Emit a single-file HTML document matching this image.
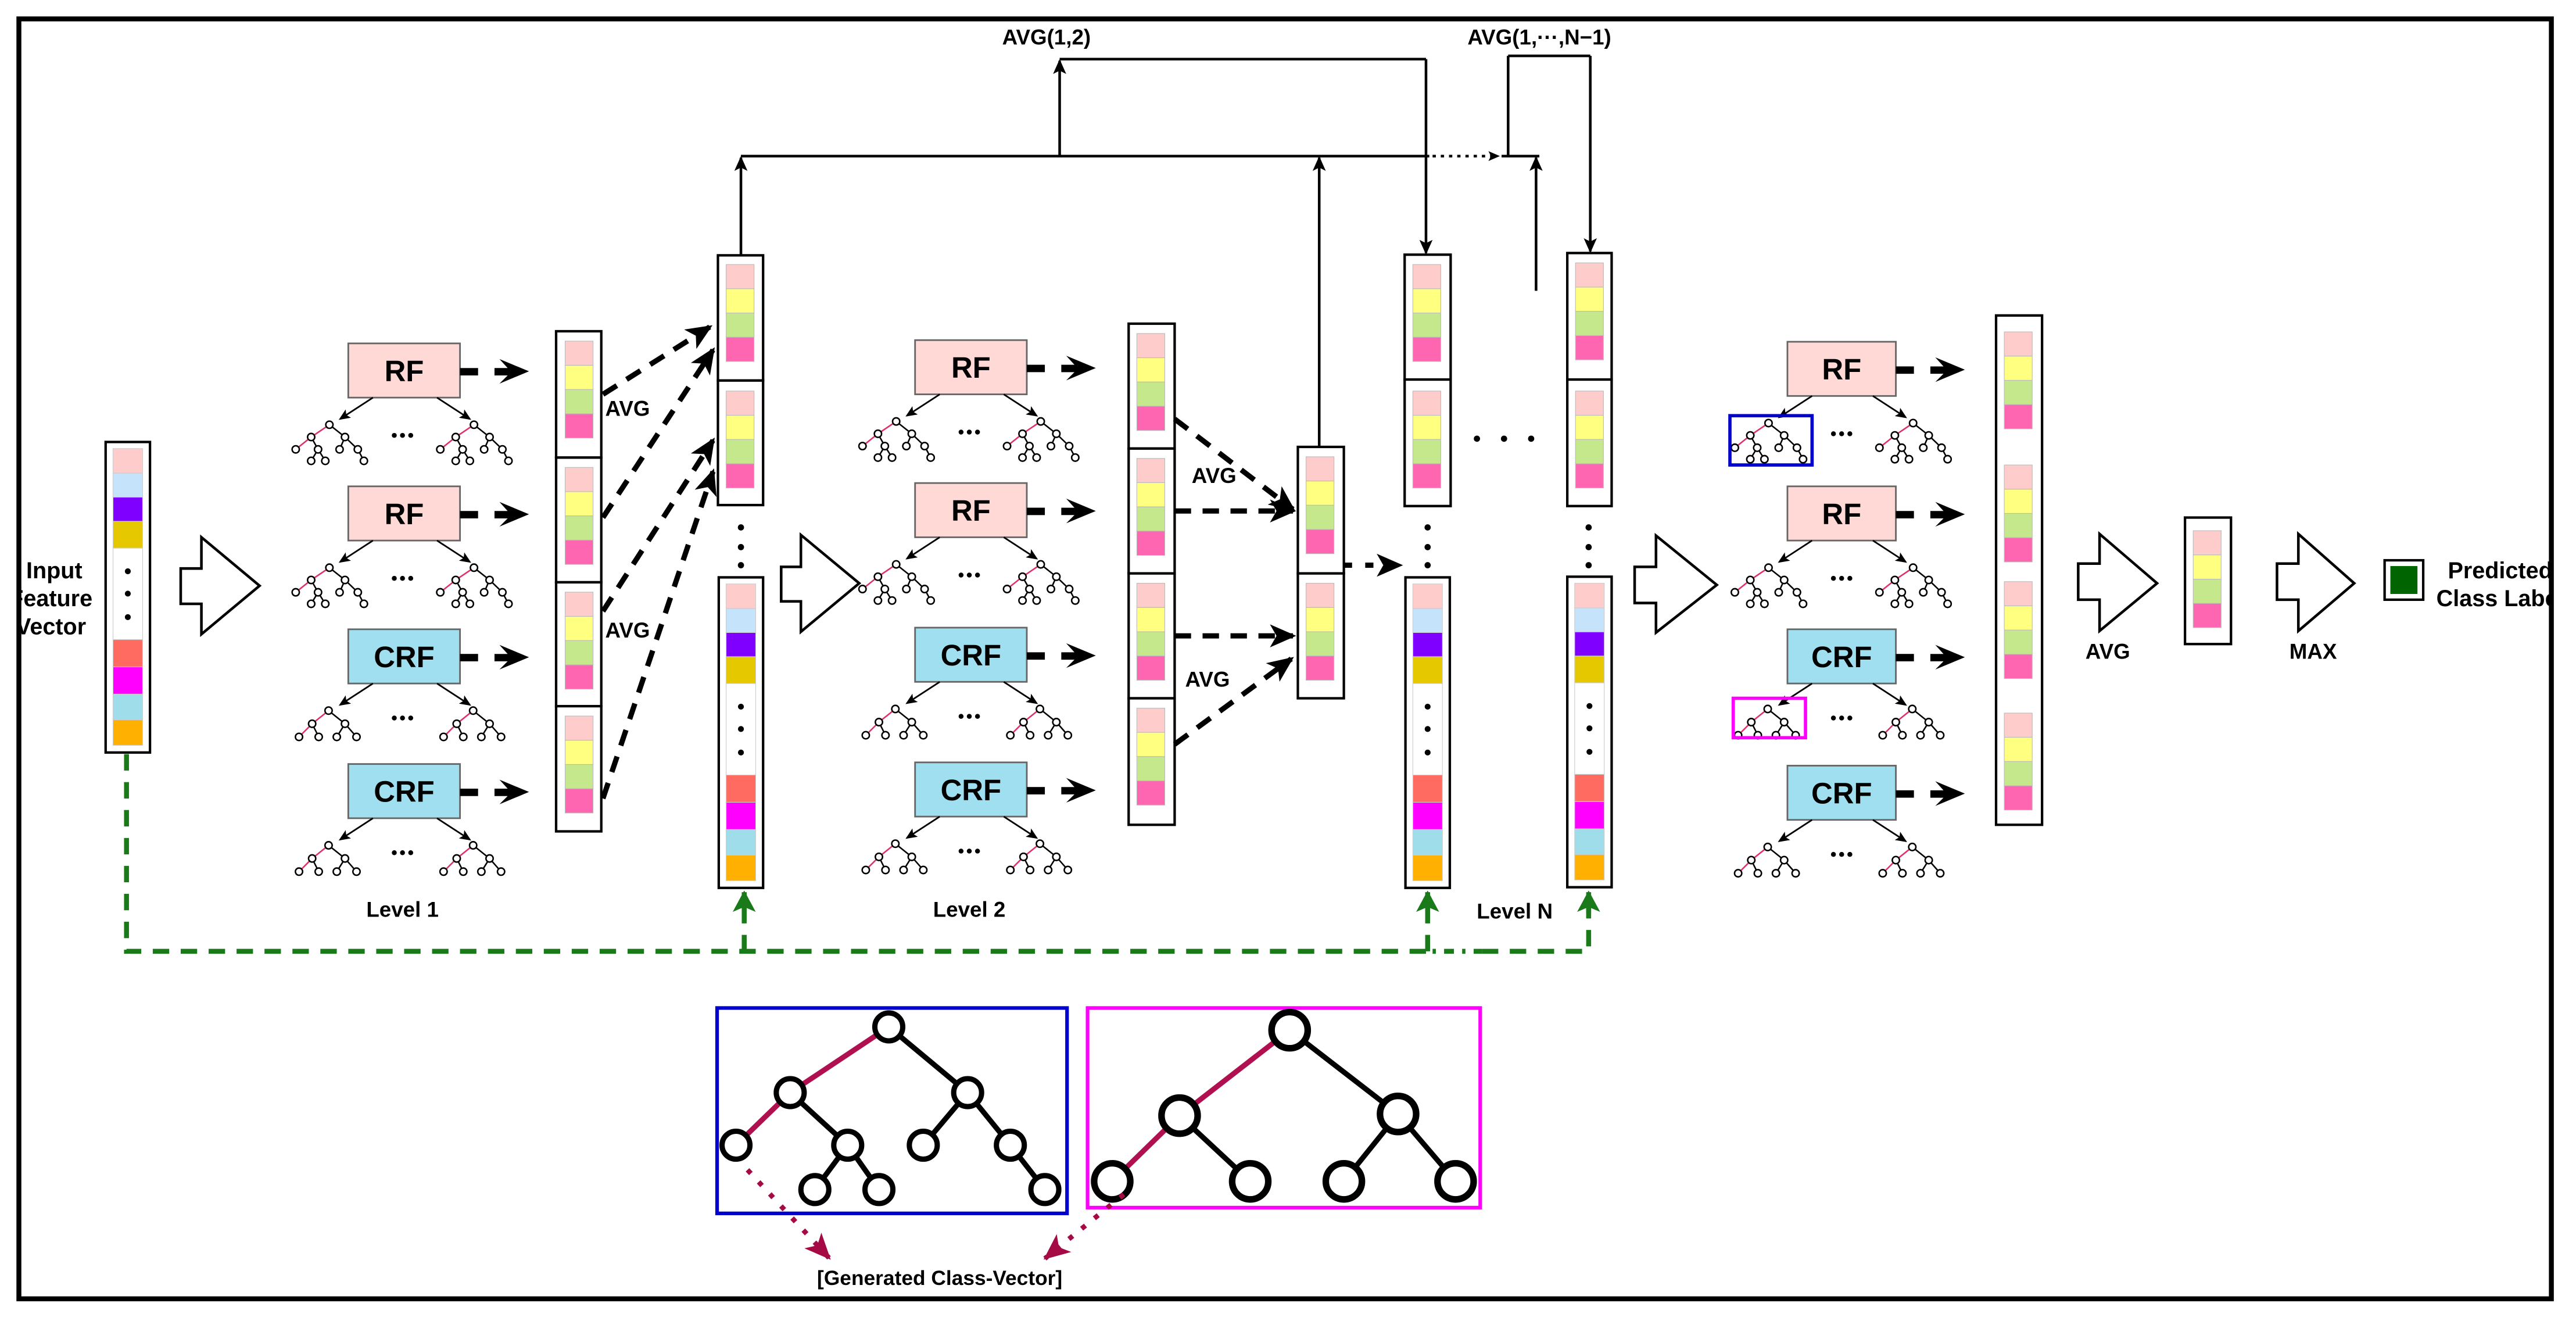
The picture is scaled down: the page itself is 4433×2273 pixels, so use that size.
<!DOCTYPE html>
<html><head><meta charset="utf-8"><style>
html,body{margin:0;padding:0;background:#fff;}
svg{display:block;}
text{font-family:"Liberation Sans",Arial,sans-serif;font-weight:bold;fill:#000;}
</style></head><body>
<svg width="4433" height="2273" viewBox="0 0 1568 804" preserveAspectRatio="none" xmlns="http://www.w3.org/2000/svg">
<defs>
<marker id="ab" markerUnits="userSpaceOnUse" markerWidth="16" markerHeight="14" refX="14" refY="7" orient="auto"><path d="M0,0 L16,7 L0,14 L4,7 z" fill="#000"/></marker>
<marker id="as" markerUnits="userSpaceOnUse" markerWidth="9" markerHeight="8" refX="8" refY="4" orient="auto"><path d="M0,0 L9,4 L0,8 L2,4 z" fill="#000"/></marker>
<marker id="at" markerUnits="userSpaceOnUse" markerWidth="7" markerHeight="6" refX="6" refY="3" orient="auto"><path d="M0,0 L7,3 L0,6 L1.5,3 z" fill="#000"/></marker>
<marker id="ag" markerUnits="userSpaceOnUse" markerWidth="13" markerHeight="14" refX="12" refY="7" orient="auto"><path d="M0,0 L13,7 L0,14 L3,7 z" fill="#1a7a1a"/></marker>
<marker id="ar" markerUnits="userSpaceOnUse" markerWidth="16" markerHeight="14" refX="15" refY="7" orient="auto"><path d="M0,0 L16,7 L0,14 L4,7 z" fill="#A50A45"/></marker>
<g id="c4" stroke="#bbb" stroke-width="0.4">
<rect x="0" y="0" width="17" height="14.75" fill="#FFCCCC"/>
<rect x="0" y="14.75" width="17" height="14.75" fill="#FFFF80"/>
<rect x="0" y="29.5" width="17" height="14.75" fill="#C5E88D"/>
<rect x="0" y="44.25" width="17" height="14.75" fill="#FF66B2"/>
</g>
<g id="iv">
<rect x="0" y="0" width="27" height="189" fill="#fff" stroke="#000" stroke-width="1.5"/>
<g stroke="#ccc" stroke-width="0.4">
<rect x="4.5" y="4" width="18" height="15" fill="#FFCCCC"/>
<rect x="4.5" y="19" width="18" height="14.6" fill="#C5E3FA"/>
<rect x="4.5" y="33.6" width="18" height="14.7" fill="#7F00FF"/>
<rect x="4.5" y="48.3" width="18" height="16.3" fill="#E6C800"/>
<rect x="4.5" y="64.6" width="18" height="55.7" fill="#fff"/>
<rect x="4.5" y="120.3" width="18" height="16.6" fill="#FF6B60"/>
<rect x="4.5" y="136.9" width="18" height="16.6" fill="#FF00FF"/>
<rect x="4.5" y="153.5" width="18" height="15.6" fill="#9FDDEA"/>
<rect x="4.5" y="169.1" width="18" height="15.5" fill="#FFB000"/>
</g>
<circle cx="13.5" cy="78.7" r="1.8" fill="#000"/><circle cx="13.5" cy="92.3" r="1.8" fill="#000"/><circle cx="13.5" cy="106.6" r="1.8" fill="#000"/>
</g>
<g id="t1" stroke-width="0.9">
<line x1="22.5" y1="2.5" x2="11.4" y2="10" stroke="#E0306A"/>
<line x1="11.4" y1="10" x2="2" y2="17.5" stroke="#E0306A"/>
<g stroke="#000"><line x1="11.4" y1="10" x2="15.6" y2="17.5"/><line x1="15.6" y1="17.5" x2="11.4" y2="24.5"/><line x1="15.6" y1="17.5" x2="20" y2="24.5"/><line x1="22.5" y1="2.5" x2="32" y2="10"/><line x1="32" y1="10" x2="28.7" y2="17.5"/><line x1="32" y1="10" x2="39.8" y2="17.5"/><line x1="39.8" y1="17.5" x2="43.5" y2="24.5"/></g>
<g fill="#fff" stroke="#000"><circle cx="22.5" cy="2.5" r="2.2"/><circle cx="11.4" cy="10" r="2.2"/><circle cx="32" cy="10" r="2.2"/><circle cx="2" cy="17.5" r="2.2"/><circle cx="15.6" cy="17.5" r="2.2"/><circle cx="28.7" cy="17.5" r="2.2"/><circle cx="39.8" cy="17.5" r="2.2"/><circle cx="11.4" cy="24.5" r="2.2"/><circle cx="20" cy="24.5" r="2.2"/><circle cx="43.5" cy="24.5" r="2.2"/></g>
</g>
<g id="t2" stroke-width="0.9">
<line x1="22" y1="2.5" x2="12" y2="10.5" stroke="#E0306A"/>
<line x1="12" y1="10.5" x2="4" y2="18.5" stroke="#E0306A"/>
<g stroke="#000"><line x1="12" y1="10.5" x2="16" y2="18.5"/><line x1="22" y1="2.5" x2="32" y2="10.5"/><line x1="32" y1="10.5" x2="27" y2="18.5"/><line x1="32" y1="10.5" x2="39" y2="18.5"/></g>
<g fill="#fff" stroke="#000"><circle cx="22" cy="2.5" r="2.2"/><circle cx="12" cy="10.5" r="2.2"/><circle cx="32" cy="10.5" r="2.2"/><circle cx="4" cy="18.5" r="2.2"/><circle cx="16" cy="18.5" r="2.2"/><circle cx="27" cy="18.5" r="2.2"/><circle cx="39" cy="18.5" r="2.2"/></g>
</g>
<g id="dots3"><circle cx="28" cy="0" r="1.5"/><circle cx="33" cy="0" r="1.5"/><circle cx="38" cy="0" r="1.5"/></g>
<g id="ra">
<rect x="0" y="-2" width="11" height="4.5" fill="#000"/>
<path d="M21,-2 L29,-2 L24,-7.5 L42,0 L24,7.5 L29,2.5 L21,2.5 z" fill="#000"/>
</g>
</defs>

<rect width="1568" height="804" fill="#fff"/>

<!-- Input -->
<text x="33" y="352" font-size="14" text-anchor="middle">Input</text>
<text x="31" y="369" font-size="14" text-anchor="middle">Feature</text>
<text x="31" y="386" font-size="14" text-anchor="middle">Vector</text>
<rect x="0" y="0" width="11" height="804" fill="#fff"/>
<use href="#iv" x="64.3" y="269"/>

<!-- big hollow arrows -->
<g fill="#fff" stroke="#000" stroke-width="1.6">
<polygon points="110,346 122.6,346 122.6,327 158,356.5 122.6,386 122.6,367.5 110,367.5"/>
<polygon points="475.5,345 487.5,345 487.5,325.6 523,355 487.5,384.5 487.5,366 475.5,366"/>
<polygon points="995,345 1008,345 1008,326 1045,356 1008,385 1008,367 995,367"/>
<polygon points="1265,343 1278,343 1278,325 1313,355 1278,384 1278,365 1265,365"/>
<polygon points="1386,343 1399,343 1399,325 1433,355 1399,384 1399,365 1386,365"/>
</g>

<!-- Level boxes -->
<g stroke="#666" stroke-width="1">
<rect x="212" y="209" width="68" height="33" fill="#FFD9D6"/>
<rect x="212" y="296" width="68" height="33" fill="#FFD9D6"/>
<rect x="212" y="383" width="68" height="33" fill="#A0DFEF"/>
<rect x="212" y="465" width="68" height="33" fill="#A0DFEF"/>
<rect x="557" y="207" width="68" height="33" fill="#FFD9D6"/>
<rect x="557" y="294" width="68" height="33" fill="#FFD9D6"/>
<rect x="557" y="382" width="68" height="33" fill="#A0DFEF"/>
<rect x="557" y="464" width="68" height="33" fill="#A0DFEF"/>
<rect x="1088" y="208" width="66" height="33" fill="#FFD9D6"/>
<rect x="1088" y="296" width="66" height="33" fill="#FFD9D6"/>
<rect x="1088" y="383" width="66" height="33" fill="#A0DFEF"/>
<rect x="1088" y="466" width="66" height="33" fill="#A0DFEF"/>
</g>
<g font-size="18" text-anchor="middle">
<text x="246" y="232">RF</text><text x="246" y="319">RF</text><text x="246" y="406">CRF</text><text x="246" y="488">CRF</text>
<text x="591" y="230">RF</text><text x="591" y="317">RF</text><text x="591" y="405">CRF</text><text x="591" y="487">CRF</text>
<text x="1121" y="231">RF</text><text x="1121" y="319">RF</text><text x="1121" y="406">CRF</text><text x="1121" y="489">CRF</text>
</g>

<!-- small arrows and trees -->
<g stroke="#000" stroke-width="1" marker-end="url(#at)">
<line x1="227" y1="242" x2="207" y2="255"/><line x1="266" y1="242" x2="286" y2="255"/>
<line x1="227" y1="329" x2="207" y2="342"/><line x1="266" y1="329" x2="286" y2="342"/>
<line x1="227" y1="416" x2="207" y2="429"/><line x1="266" y1="416" x2="286" y2="429"/>
<line x1="227" y1="498" x2="207" y2="511"/><line x1="266" y1="498" x2="286" y2="511"/>
<line x1="572" y1="240" x2="552" y2="253"/><line x1="611" y1="240" x2="631" y2="253"/>
<line x1="572" y1="327" x2="552" y2="340"/><line x1="611" y1="327" x2="631" y2="340"/>
<line x1="572" y1="415" x2="552" y2="428"/><line x1="611" y1="415" x2="631" y2="428"/>
<line x1="572" y1="497" x2="552" y2="510"/><line x1="611" y1="497" x2="631" y2="510"/>
<line x1="1103" y1="241" x2="1083" y2="254"/><line x1="1140" y1="241" x2="1160" y2="254"/>
<line x1="1103" y1="329" x2="1083" y2="342"/><line x1="1140" y1="329" x2="1160" y2="342"/>
<line x1="1103" y1="416" x2="1083" y2="429"/><line x1="1140" y1="416" x2="1160" y2="429"/>
<line x1="1103" y1="499" x2="1083" y2="512"/><line x1="1140" y1="499" x2="1160" y2="512"/>
</g>
<use href="#t1" x="178" y="256"/><use href="#t1" x="266" y="256"/>
<use href="#t1" x="178" y="343"/><use href="#t1" x="266" y="343"/>
<use href="#t2" x="178" y="430"/><use href="#t2" x="266" y="430"/>
<use href="#t2" x="178" y="512"/><use href="#t2" x="266" y="512"/>
<use href="#t1" x="523" y="254"/><use href="#t1" x="611" y="254"/>
<use href="#t1" x="523" y="341"/><use href="#t1" x="611" y="341"/>
<use href="#t2" x="523" y="429"/><use href="#t2" x="611" y="429"/>
<use href="#t2" x="523" y="511"/><use href="#t2" x="611" y="511"/>
<use href="#t1" x="1054" y="255"/><use href="#t1" x="1142" y="255"/>
<use href="#t1" x="1054" y="343"/><use href="#t1" x="1142" y="343"/>
<use href="#t2" x="1054" y="429"/><use href="#t2" x="1142" y="429"/>
<use href="#t2" x="1054" y="513"/><use href="#t2" x="1142" y="513"/>
<g fill="#000">
<use href="#dots3" x="212" y="265"/><use href="#dots3" x="212" y="352"/><use href="#dots3" x="212" y="437"/><use href="#dots3" x="212" y="519"/>
<use href="#dots3" x="557" y="263"/><use href="#dots3" x="557" y="350"/><use href="#dots3" x="557" y="436"/><use href="#dots3" x="557" y="518"/>
<use href="#dots3" x="1088" y="264"/><use href="#dots3" x="1088" y="352"/><use href="#dots3" x="1088" y="437"/><use href="#dots3" x="1088" y="520"/>
</g>
<rect x="1053" y="253" width="50" height="30" fill="none" stroke="#0000CC" stroke-width="2"/>
<rect x="1055" y="425" width="44" height="24" fill="none" stroke="#FF00FF" stroke-width="2"/>

<!-- box -> column arrows -->
<use href="#ra" x="280" y="226"/><use href="#ra" x="280" y="313"/><use href="#ra" x="280" y="400"/><use href="#ra" x="280" y="482"/>
<use href="#ra" x="625" y="224"/><use href="#ra" x="625" y="311"/><use href="#ra" x="625" y="399"/><use href="#ra" x="625" y="481"/>
<use href="#ra" x="1154" y="225"/><use href="#ra" x="1154" y="313"/><use href="#ra" x="1154" y="400"/><use href="#ra" x="1154" y="483"/>

<!-- Level 1 column -->
<g fill="#fff" stroke="#000" stroke-width="1.5">
<rect x="338.5" y="201.6" width="27.5" height="76.9"/><rect x="338.5" y="278.5" width="27.5" height="75.9"/><rect x="338.5" y="354.4" width="27.5" height="75.4"/><rect x="338.5" y="429.8" width="27.5" height="76.2"/>
</g>
<use href="#c4" x="344" y="207.6"/><use href="#c4" x="344" y="284.5"/><use href="#c4" x="344" y="360.4"/><use href="#c4" x="344" y="435.8"/>
<text x="382" y="253" font-size="13" text-anchor="middle">AVG</text>
<text x="382" y="388" font-size="13" text-anchor="middle">AVG</text>

<!-- Col2 -->
<g fill="#fff" stroke="#000" stroke-width="1.5">
<rect x="437" y="155.4" width="27.5" height="76.2"/><rect x="437" y="231.6" width="27.5" height="75.8"/>
<rect x="855" y="155" width="28" height="76"/><rect x="855" y="231" width="28" height="77"/>
<rect x="954" y="154" width="27" height="77"/><rect x="954" y="231" width="27" height="77"/>
</g>
<use href="#c4" x="442" y="161"/><use href="#c4" x="442" y="238"/>
<use href="#c4" x="860" y="161"/><use href="#c4" x="860" y="238"/>
<use href="#c4" x="959" y="160"/><use href="#c4" x="959" y="238"/>
<g fill="#000">
<circle cx="451" cy="321" r="1.9"/><circle cx="451" cy="333" r="1.9"/><circle cx="451" cy="344" r="1.9"/>
<circle cx="869" cy="321" r="1.9"/><circle cx="869" cy="333" r="1.9"/><circle cx="869" cy="344" r="1.9"/>
<circle cx="967" cy="321" r="1.9"/><circle cx="967" cy="333" r="1.9"/><circle cx="967" cy="344" r="1.9"/>
<circle cx="899" cy="267" r="1.9"/><circle cx="915.5" cy="267" r="1.9"/><circle cx="932" cy="267" r="1.9"/>
</g>
<use href="#iv" x="437.5" y="351.4"/>
<use href="#iv" x="855.5" y="351.4"/>
<use href="#iv" x="954" y="351"/>

<!-- Level 1 dashed to col2 -->
<g stroke="#000" stroke-width="3.2" stroke-dasharray="10 7" fill="none" marker-end="url(#ab)">
<line x1="367" y1="240" x2="432" y2="199"/>
<line x1="367" y1="315" x2="434" y2="213"/>
<line x1="367" y1="372" x2="434" y2="268"/>
<line x1="367" y1="486" x2="434" y2="287"/>
</g>

<!-- Level 2 column -->
<g fill="#fff" stroke="#000" stroke-width="1.5">
<rect x="687" y="197" width="28" height="76"/><rect x="687" y="273" width="28" height="76"/><rect x="687" y="349" width="28" height="76"/><rect x="687" y="425" width="28" height="77"/>
<rect x="790" y="272" width="28" height="77"/><rect x="790" y="349" width="28" height="76"/>
</g>
<use href="#c4" x="692" y="203"/><use href="#c4" x="692" y="279"/><use href="#c4" x="692" y="355"/><use href="#c4" x="692" y="431"/>
<use href="#c4" x="795" y="278"/><use href="#c4" x="795" y="355"/>
<text x="739" y="294" font-size="13" text-anchor="middle">AVG</text>
<text x="735" y="418" font-size="13" text-anchor="middle">AVG</text>
<g stroke="#000" stroke-width="3.2" stroke-dasharray="10 7" fill="none" marker-end="url(#ab)">
<line x1="715" y1="255" x2="787" y2="310"/>
<line x1="715" y1="311" x2="787" y2="311"/>
<line x1="715" y1="387" x2="787" y2="387"/>
<line x1="715" y1="453" x2="786" y2="401"/>
<line x1="818" y1="344" x2="852" y2="344" stroke-dasharray="5 8"/>
</g>

<!-- Final column etc -->
<rect x="1215" y="192" width="28" height="310" fill="#fff" stroke="#000" stroke-width="1.5"/>
<use href="#c4" x="1220" y="202"/><use href="#c4" x="1220" y="283"/><use href="#c4" x="1220" y="354"/><use href="#c4" x="1220" y="434"/>
<rect x="1330" y="315" width="28" height="77" fill="#fff" stroke="#000" stroke-width="1.5"/>
<use href="#c4" x="1335" y="323"/>
<text x="1283" y="401" font-size="13" text-anchor="middle">AVG</text>
<text x="1408" y="401" font-size="13" text-anchor="middle">MAX</text>
<rect x="1451.5" y="341" width="23.5" height="24" fill="#fff" stroke="#000" stroke-width="1.5"/>
<rect x="1455" y="344.5" width="16.5" height="17" fill="#006400"/>
<text x="1490" y="352" font-size="14">Predicted</text>
<text x="1483" y="369" font-size="14">Class Label</text>
<rect x="1553" y="0" width="15" height="804" fill="#fff"/>

<rect x="11.5" y="11.5" width="1541.5" height="779" fill="none" stroke="#000" stroke-width="3"/>

<!-- top connections -->
<g stroke="#000" stroke-width="1.6" fill="none">
<line x1="451" y1="155" x2="451" y2="96" marker-end="url(#as)"/>
<line x1="451" y1="95" x2="870" y2="95"/>
<line x1="645" y1="95" x2="645" y2="37" marker-end="url(#as)"/>
<line x1="645" y1="36" x2="868" y2="36"/>
<line x1="868" y1="36" x2="868" y2="154" marker-end="url(#as)"/>
<line x1="803" y1="272" x2="803" y2="96" marker-end="url(#as)"/>
<line x1="872" y1="95" x2="912" y2="95" stroke-dasharray="2 3" marker-end="url(#at)"/>
<line x1="914" y1="95" x2="937" y2="95"/>
<line x1="935" y1="177" x2="935" y2="96" marker-end="url(#as)"/>
<line x1="918" y1="95" x2="918" y2="34"/>
<line x1="918" y1="34" x2="968" y2="34"/>
<line x1="968" y1="34" x2="968" y2="153" marker-end="url(#as)"/>
</g>
<text x="637" y="27" font-size="13" text-anchor="middle">AVG(1,2)</text>
<text x="937" y="27" font-size="13" text-anchor="middle">AVG(1,···,N−1)</text>

<!-- green dashed -->
<g stroke="#1a7a1a" stroke-width="3" fill="none">
<path d="M77,459 L77,579 L870,579" stroke-dasharray="10 7"/>
<path d="M872,579 L902,579" stroke-dasharray="2 5 6 5"/>
<path d="M902,579 L967,579 L967,545" stroke-dasharray="10 7"/>
<line x1="453" y1="579" x2="453" y2="543" stroke-dasharray="10 7" marker-end="url(#ag)"/>
<line x1="869" y1="579" x2="869" y2="543" stroke-dasharray="10 7" marker-end="url(#ag)"/>
<line x1="967" y1="556" x2="967" y2="543" marker-end="url(#ag)"/>
</g>
<text x="245" y="558" font-size="13" text-anchor="middle">Level 1</text>
<text x="590" y="558" font-size="13" text-anchor="middle">Level 2</text>
<text x="922" y="559" font-size="13" text-anchor="middle">Level N</text>

<!-- bottom trees -->
<rect x="436.5" y="613.5" width="213" height="125" fill="none" stroke="#0000CC" stroke-width="2.2"/>
<rect x="662" y="613.5" width="239" height="121.5" fill="none" stroke="#FF00FF" stroke-width="2.2"/>
<g stroke-width="3.2" fill="none">
<line x1="541" y1="625" x2="481" y2="665" stroke="#B0104F"/>
<line x1="481" y1="665" x2="448" y2="697" stroke="#B0104F"/>
<g stroke="#000">
<line x1="481" y1="665" x2="516" y2="697"/><line x1="516" y1="697" x2="496" y2="724"/><line x1="516" y1="697" x2="535" y2="724"/>
<line x1="541" y1="625" x2="589" y2="665"/><line x1="589" y1="665" x2="562" y2="697"/><line x1="589" y1="665" x2="615" y2="697"/><line x1="615" y1="697" x2="636" y2="724"/>
</g>
<line x1="785" y1="627" x2="718" y2="679" stroke="#B0104F"/>
<line x1="718" y1="679" x2="677" y2="719" stroke="#B0104F"/>
<g stroke="#000">
<line x1="718" y1="679" x2="761" y2="719"/><line x1="785" y1="627" x2="851" y2="678"/><line x1="851" y1="678" x2="818" y2="719"/><line x1="851" y1="678" x2="886" y2="719"/>
</g>
</g>
<g fill="#fff" stroke="#000" stroke-width="3.2">
<circle cx="541" cy="625" r="8.5"/><circle cx="481" cy="665" r="8.5"/><circle cx="589" cy="665" r="8.5"/>
<circle cx="448" cy="697" r="8.5"/><circle cx="516" cy="697" r="8.5"/><circle cx="562" cy="697" r="8.5"/><circle cx="615" cy="697" r="8.5"/>
<circle cx="496" cy="724" r="8.5"/><circle cx="535" cy="724" r="8.5"/><circle cx="636" cy="724" r="8.5"/>
<circle cx="785" cy="627" r="11" stroke-width="4"/><circle cx="718" cy="679" r="11" stroke-width="4"/><circle cx="851" cy="678" r="11" stroke-width="4"/>
<circle cx="677" cy="719" r="11" stroke-width="4"/><circle cx="761" cy="719" r="11" stroke-width="4"/><circle cx="818" cy="719" r="11" stroke-width="4"/><circle cx="886" cy="719" r="11" stroke-width="4"/>
</g>
<g stroke="#A50A45" stroke-width="3" fill="none" stroke-dasharray="3 7">
<line x1="455" y1="712" x2="505" y2="766" marker-end="url(#ar)"/>
<line x1="684" y1="727" x2="636" y2="766" marker-end="url(#ar)"/>
</g>
<text x="572" y="782" font-size="12.5" text-anchor="middle">[Generated Class-Vector]</text>
</svg>
</body></html>
